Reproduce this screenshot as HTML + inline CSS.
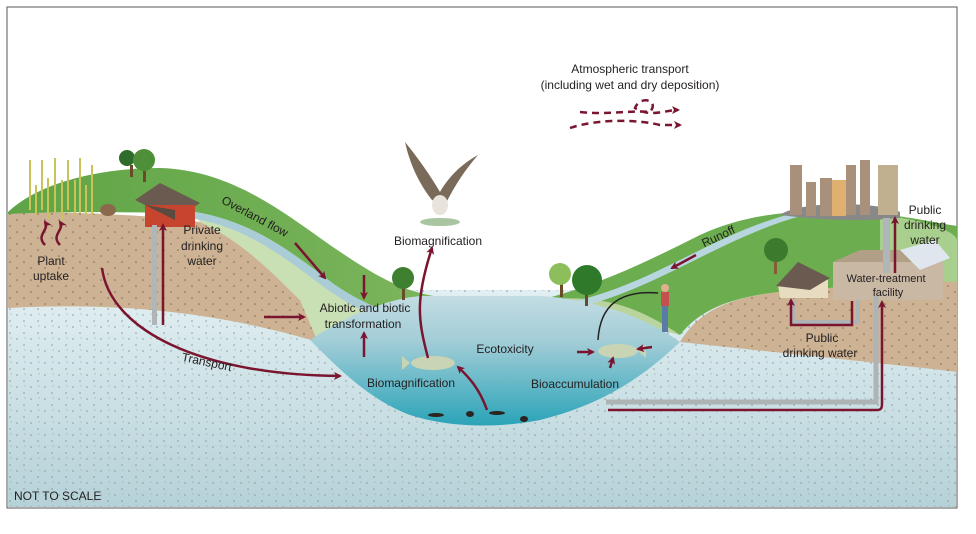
<!DOCTYPE html>
<html><head><meta charset="utf-8"><style>
html,body{margin:0;padding:0;background:#fff;}
svg{display:block;}
text{font-family:"Liberation Sans",sans-serif;fill:#231f20;}
</style></head><body>
<svg width="976" height="534" viewBox="0 0 976 534" xmlns="http://www.w3.org/2000/svg">
<defs>
<marker id="ah" markerWidth="8" markerHeight="8" refX="6" refY="4" orient="auto" markerUnits="userSpaceOnUse">
<path d="M0,0 L8,4 L0,8 L2,4 Z" fill="#7a1530"/></marker>
<pattern id="dots" width="14" height="12" patternUnits="userSpaceOnUse">
<circle cx="3" cy="3" r="0.8" fill="#8a979c"/><circle cx="10" cy="9" r="0.8" fill="#8a979c"/><circle cx="11" cy="2" r="0.6" fill="#9aa7ac"/></pattern>
<pattern id="dots2" width="14" height="12" patternUnits="userSpaceOnUse">
<circle cx="3" cy="4" r="0.8" fill="#7b6a58"/><circle cx="10" cy="10" r="0.8" fill="#7b6a58"/></pattern>
<linearGradient id="lake" x1="0" y1="0" x2="0" y2="1">
<stop offset="0" stop-color="#c3dce3"/><stop offset="0.35" stop-color="#a2cdd7"/><stop offset="1" stop-color="#2aa4b8"/></linearGradient>
<linearGradient id="gw" x1="0" y1="0" x2="0" y2="1">
<stop offset="0" stop-color="#e2eff2"/><stop offset="1" stop-color="#b5d2d8"/></linearGradient>
<linearGradient id="hill" x1="0" y1="0" x2="1" y2="0">
<stop offset="0" stop-color="#5ea445"/><stop offset="1" stop-color="#7cb55c"/></linearGradient>
</defs>
<rect x="7" y="7" width="950" height="501" fill="#fff" stroke="#555" stroke-width="1"/>
<rect x="8" y="290" width="948" height="217" fill="url(#gw)"/>
<rect x="8" y="290" width="948" height="217" fill="url(#dots)"/>
<path d="M8,212 C80,212 150,215 200,222 C240,240 270,270 300,300 L318,342 C250,322 150,300 8,308 Z" fill="#cdb394"/>
<path d="M8,212 C80,212 150,215 200,222 C240,240 270,270 300,300 L318,342 C250,322 150,300 8,308 Z" fill="url(#dots2)"/>
<path d="M195,215 C250,225 290,260 330,290 C360,310 395,322 430,322 L430,330 C390,334 350,338 318,342 L300,300 C270,270 240,240 200,222 Z" fill="#c9dfb4"/>
<path d="M8,212 C40,182 100,168 160,168 C230,170 280,210 330,245 C370,272 400,292 440,297 L430,318 C395,318 365,305 335,285 C295,255 255,222 195,212 C150,214 80,210 8,214 Z" fill="url(#hill)"/>
<path d="M195,212 C255,222 295,255 335,285 C365,305 395,318 430,318 L430,326 C392,326 360,312 328,290 C290,262 250,228 195,219 Z" fill="#a9ccd6"/>
<path d="M680,342 C700,310 730,295 800,290 C860,286 920,280 957,282 L957,372 C900,365 800,355 680,342 Z" fill="#cdb394"/>
<path d="M680,342 C700,310 730,295 800,290 C860,286 920,280 957,282 L957,372 C900,365 800,355 680,342 Z" fill="url(#dots2)"/>
<path d="M540,300 C600,285 650,260 700,235 C750,212 800,210 850,212 C900,214 930,222 957,226 L957,282 C920,280 860,286 800,290 C730,295 700,310 680,335 C640,320 600,305 540,300 Z" fill="#6cae4f"/>
<path d="M540,300 C590,295 630,300 680,335 C640,325 600,312 560,305 Z" fill="#b9d49d"/>
<path d="M880,215 C940,222 957,235 957,240 L957,282 C930,280 900,282 880,283 Z" fill="#a9cf8e"/>
<path d="M555,305 C600,298 640,280 680,260 C720,240 760,220 800,212 L805,215 C765,225 725,245 685,265 C645,285 605,303 565,310 Z" fill="#b7d6df"/>
<path d="M310,340 C340,320 380,300 420,296 L540,296 C600,300 650,320 680,342 C640,380 600,405 540,420 C500,428 450,428 410,415 C370,400 340,370 310,340 Z" fill="url(#lake)"/>
<g><rect x="130" y="165" width="3" height="12" fill="#6b4a2a"/><circle cx="127" cy="158" r="8" fill="#2f6b2a"/><rect x="143" y="168" width="3" height="14" fill="#6b4a2a"/><circle cx="144" cy="160" r="11" fill="#4f8f3a"/></g>
<g><rect x="402" y="285" width="3" height="15" fill="#6b4a2a"/><circle cx="403" cy="278" r="11" fill="#3f7f30"/></g>
<g><rect x="560" y="282" width="3" height="15" fill="#6b4a2a"/><circle cx="560" cy="274" r="11" fill="#8cbf5c"/><rect x="585" y="288" width="3" height="18" fill="#6b4a2a"/><circle cx="587" cy="280" r="15" fill="#2f7a2a"/></g>
<g><rect x="774" y="258" width="3" height="16" fill="#8a5a30"/><circle cx="776" cy="250" r="12" fill="#3c7a2e"/></g>
<g stroke="#c9c35a" stroke-width="2" fill="none">
<path d="M30,160 v50 M42,160 v50 M55,158 v55 M68,160 v50 M80,158 v55 M92,165 v50 M48,178 v40 M62,180 v40 M75,180 v35 M36,185 v30 M86,185 v30"/></g>
<ellipse cx="108" cy="210" rx="8" ry="6" fill="#8a6a4a"/>
<polygon points="135,200 160,183 200,203 175,220" fill="#6b5a50"/>
<rect x="145" y="205" width="50" height="22" fill="#c7442e"/>
<polygon points="135,200 175,220 175,210 145,205" fill="#5a4a40"/>
<rect x="152" y="225" width="5" height="100" fill="#b0b5b8"/>
<polygon points="778,285 800,265 828,280 828,298 780,298" fill="#e8dcc0"/>
<polygon points="776,286 798,262 830,278 810,290" fill="#6b5a50"/>
<rect x="833" y="262" width="110" height="38" fill="#c9b8a4"/>
<polygon points="833,262 860,250 900,250 943,262" fill="#b29f88"/>
<polygon points="900,250 935,240 950,258 920,270" fill="#dfe6ee"/>
<path d="M780,215 C800,200 880,202 900,212 L900,218 C860,222 820,220 780,215 Z" fill="#888"/>
<g fill="#a9907a"><rect x="790" y="165" width="12" height="50"/><rect x="806" y="182" width="10" height="34"/><rect x="820" y="178" width="12" height="38"/><rect x="832" y="180" width="14" height="36" fill="#e0b070"/><rect x="846" y="165" width="10" height="50"/><rect x="860" y="160" width="10" height="55"/><rect x="878" y="165" width="20" height="50" fill="#c0b090"/></g>
<rect x="883" y="218" width="7" height="55" fill="#b0b5b8"/>
<path d="M606,402 L876,402 L876,296" stroke="#aeb3b6" stroke-width="5" fill="none"/>
<path d="M793,300 L793,322 L858,322 L858,300" stroke="#aeb3b6" stroke-width="4" fill="none"/>
<!-- eagle -->
<path d="M405,142 C410,165 420,185 432,200 L445,205 C455,185 465,170 478,155 C460,165 448,178 440,192 C430,175 418,158 405,142 Z" fill="#7a6a5a"/>
<ellipse cx="440" cy="205" rx="8" ry="10" fill="#e8e4dc"/>
<ellipse cx="440" cy="222" rx="20" ry="4" fill="#a8c4a0"/>
<ellipse cx="433" cy="363" rx="22" ry="7" fill="#c8d4b4"/><polygon points="410,363 402,356 402,370" fill="#c8d4b4"/>
<ellipse cx="618" cy="351" rx="20" ry="7" fill="#c8d4b4"/><polygon points="638,351 646,344 646,358" fill="#c8d4b4"/>
<rect x="661" y="292" width="8" height="14" fill="#c55050"/><rect x="662" y="306" width="6" height="26" fill="#5a7aa8"/><circle cx="665" cy="288" r="4" fill="#e0b090"/>
<path d="M658,293 C620,290 600,305 598,340" stroke="#222" stroke-width="1.5" fill="none"/>
<g fill="#2a2520"><ellipse cx="436" cy="415" rx="8" ry="2"/><ellipse cx="470" cy="414" rx="4" ry="3"/><ellipse cx="497" cy="413" rx="8" ry="2"/><ellipse cx="524" cy="419" rx="4" ry="3"/></g>
<g stroke="#7a1530" stroke-width="2.5" fill="none" marker-end="url(#ah)">
<path d="M45,245 C35,235 50,230 45,222"/>
<path d="M60,245 C50,235 65,230 60,222"/>
<path d="M102,268 C110,330 200,375 340,376"/>
<path d="M163,325 L163,225"/>
<path d="M295,243 L325,278"/>
<path d="M364,275 L364,298"/>
<path d="M264,317 L304,317"/>
<path d="M364,357 L364,333"/>
<path d="M428,358 C418,320 415,300 432,248"/>
<path d="M487,410 C480,390 470,378 458,367"/>
<path d="M577,352 L593,352"/>
<path d="M652,347 L638,349"/>
<path d="M610,368 L613,358"/>
<path d="M696,255 L672,268"/>
<path d="M608,410 L877,410 C881,410 882,408 882,404 L882,302"/>
<path d="M852,301 L852,325 L791,325 L791,300"/>
<path d="M895,273 L895,218"/>
</g>
<g stroke="#7a1530" stroke-width="2.5" fill="none" stroke-dasharray="7,5">
<path d="M570,128 C600,118 640,120 660,125 L680,125" marker-end="url(#ah)"/>
<path d="M580,112 C610,115 630,110 650,112 C660,100 640,95 635,108 C650,118 665,110 678,110" marker-end="url(#ah)"/>
</g>
<g font-size="12" text-anchor="middle">
<text x="630" y="73">Atmospheric transport</text>
<text x="630" y="89">(including wet and dry deposition)</text>
<text x="51" y="265">Plant</text><text x="51" y="280">uptake</text>
<text x="202" y="234">Private</text><text x="202" y="250">drinking</text><text x="202" y="265">water</text>
<text x="438" y="245">Biomagnification</text>
<text x="365" y="312">Abiotic and biotic</text><text x="363" y="328">transformation</text>
<text x="505" y="353">Ecotoxicity</text>
<text x="411" y="387">Biomagnification</text>
<text x="575" y="388">Bioaccumulation</text>
<text x="822" y="342">Public</text><text x="820" y="357">drinking water</text>
<text x="886" y="282" font-size="11">Water-treatment</text><text x="888" y="296" font-size="11">facility</text>
<text x="925" y="214">Public</text><text x="925" y="229">drinking</text><text x="925" y="244">water</text>
<text x="206" y="366" transform="rotate(12 206 366)">Transport</text>
<text x="253" y="220" transform="rotate(28 253 220)">Overland flow</text>
<text x="720" y="240" transform="rotate(-25 720 240)">Runoff</text>
</g>
<text x="14" y="500" font-size="12" fill="#222">NOT TO SCALE</text>
</svg>
</body></html>
